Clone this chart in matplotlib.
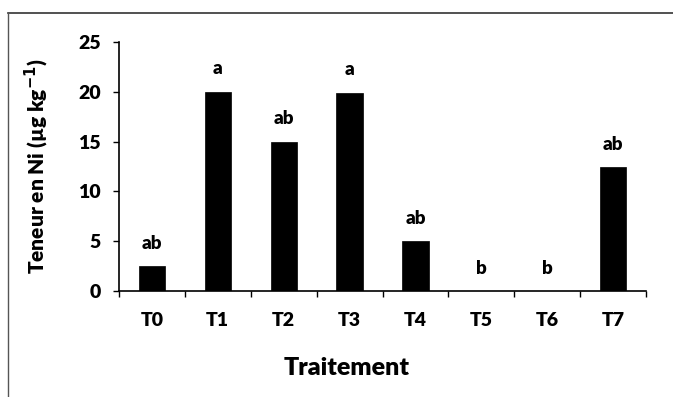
import matplotlib
matplotlib.use("Agg")
import matplotlib.pyplot as plt
from matplotlib.lines import Line2D
import numpy as np

treatments = ["T0", "T1", "T2", "T3", "T4", "T5", "T6", "T7"]
ni_content = [2.5, 20.0, 15.0, 19.9, 5.0, 0.0, 0.0, 12.4]
letters = ["ab", "a", "ab", "a", "ab", "b", "b", "ab"]
y_ticks = [0, 5, 10, 15, 20, 25]

plt.rcParams["font.family"] = ["Lato", "DejaVu Sans"]
WEIGHT = "heavy"
plt.rcParams["font.weight"] = WEIGHT

W, H = 673, 397
fig = plt.figure(figsize=(W / 100, H / 100), dpi=100)
fig.patch.set_facecolor("white")

left, right, bottom, top = 119, 646, 291, 42
ax = fig.add_axes([left / W, 1 - bottom / H, (right - left) / W, (bottom - top) / H])

x = np.arange(len(treatments))
ax.bar(x, ni_content, width=0.4, color="black", edgecolor="black", linewidth=0.5, zorder=2)

for xi, val, lab in zip(x, ni_content, letters):
    ax.annotate(lab, (xi, val), xytext=(0, 16.5), textcoords="offset points",
                ha="center", va="center", fontsize=13.5, fontweight=WEIGHT)

ax.set_xlim(-0.5, len(treatments) - 0.5)
ax.set_ylim(0, 25)
ax.set_yticks(y_ticks)
ax.set_yticklabels([str(v) for v in y_ticks], fontsize=14, fontweight=WEIGHT)

# category labels centred between boundary ticks
ax.set_xticks(np.arange(-0.5, len(treatments), 1.0))
ax.set_xticklabels([])
ax.set_xticks(x, minor=True)
ax.set_xticklabels(treatments, minor=True, fontsize=14, fontweight=WEIGHT)
ax.tick_params(axis="x", which="major", direction="out", length=4, width=1, color="black")
ax.tick_params(axis="x", which="minor", length=0, pad=15)
ax.tick_params(axis="y", direction="out", length=4, width=1, pad=9, color="black")

for s in ("top", "right"):
    ax.spines[s].set_visible(False)
for s in ("left", "bottom"):
    ax.spines[s].set_linewidth(1.2)
    ax.spines[s].set_color("black")

fig.text(37 / W, 1 - 166 / H, "Teneur en Ni (µg kg$^{\\mathbf{-1}}$)", rotation=90,
         ha="center", va="center", fontsize=15, fontweight=WEIGHT)
fig.text(347 / W, 1 - 368 / H, "Traitement", ha="center", va="center",
         fontsize=18, fontweight=WEIGHT)

# outer frame (top and left edges)
fig.add_artist(Line2D([8 / W, 1], [1 - 13 / H, 1 - 13 / H], color="#333333", linewidth=1.2))
fig.add_artist(Line2D([8 / W, 8 / W], [0, 1 - 13 / H], color="#555555", linewidth=1.0))

fig.savefig("out.png", dpi=100)
